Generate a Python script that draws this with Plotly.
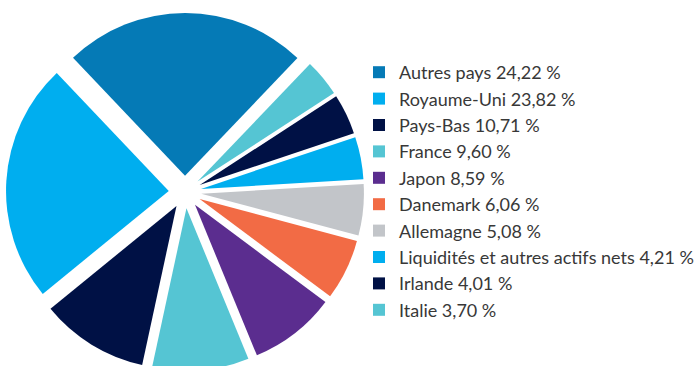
import plotly.graph_objects as go

# Geographic allocation of the portfolio (% of net assets)
countries = [
    "Autres pays",
    "Royaume-Uni",
    "Pays-Bas",
    "France",
    "Japon",
    "Danemark",
    "Allemagne",
    "Liquidités et autres actifs nets",
    "Irlande",
    "Italie",
]
weights = [24.22, 23.82, 10.71, 9.60, 8.59, 6.06, 5.08, 4.21, 4.01, 3.70]
colors = [
    "#057ab6",
    "#00aeef",
    "#001145",
    "#55c5d3",
    "#5b2d8f",
    "#f26b45",
    "#c2c5c9",
    "#00aeef",
    "#001145",
    "#55c5d3",
]


def fr_pct(v):
    return f"{v:.2f}".replace(".", ",") + " %"


legend_labels = [f"{c} {fr_pct(v)}" for c, v in zip(countries, weights)]

W, H = 699, 384

fig = go.Figure(
    go.Pie(
        labels=legend_labels,
        values=weights,
        sort=False,
        direction="counterclockwise",
        rotation=-43.5,
        pull=[0.1] * len(weights),
        marker=dict(colors=colors, line=dict(width=0)),
        textinfo="none",
        hoverinfo="label",
        domain=dict(x=[6 / W, 364 / W], y=[0, 1]),
    )
)

fig.update_layout(
    width=W,
    height=H,
    margin=dict(l=0, r=0, t=0, b=0),
    paper_bgcolor="white",
    plot_bgcolor="white",
    showlegend=True,
    legend=dict(
        x=1,
        xanchor="right",
        y=1 - 54 / H,
        yanchor="top",
        font=dict(family="Lato", size=18, color="#383838"),
        bgcolor="rgba(0,0,0,0)",
        traceorder="normal",
    ),
)

fig.write_html("out.html")
